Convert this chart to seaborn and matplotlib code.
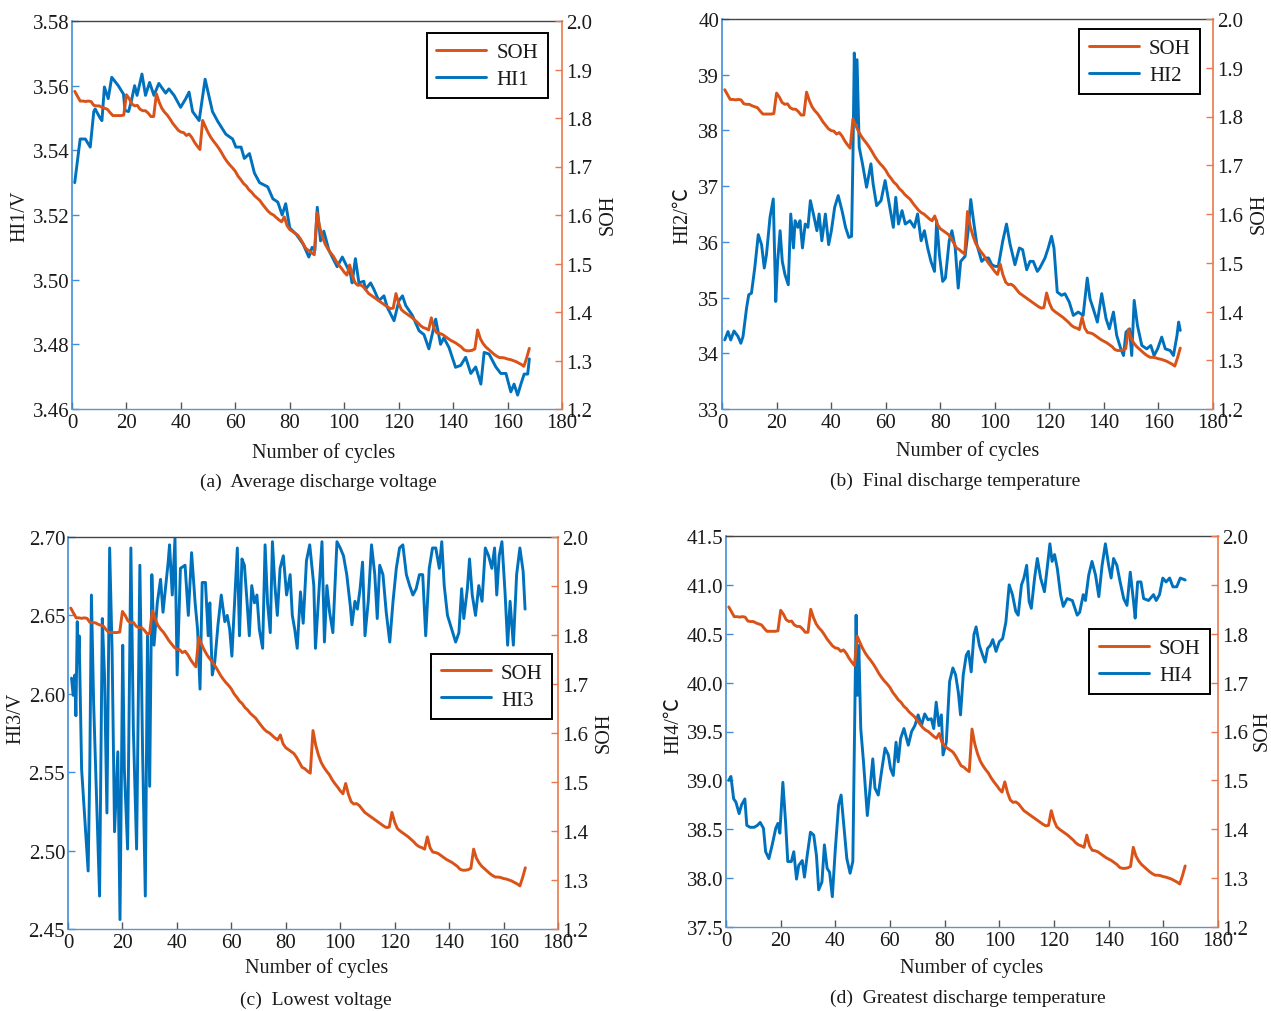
import numpy as np
import matplotlib
matplotlib.use("Agg")
import matplotlib.pyplot as plt
import seaborn as sns

# ---------------- data ----------------
cycles = list(range(1, 169))
soh = [
    1.855, 1.845, 1.835, 1.835, 1.834, 1.835, 1.834, 1.826, 1.825, 1.825,
    1.822, 1.820, 1.818, 1.811, 1.805, 1.805, 1.805, 1.805, 1.806, 1.848,
    1.840, 1.829, 1.825, 1.826, 1.818, 1.815, 1.815, 1.810, 1.803, 1.803,
    1.850, 1.833, 1.820, 1.812, 1.806, 1.798, 1.789, 1.782, 1.775, 1.771,
    1.770, 1.764, 1.767, 1.760, 1.750, 1.742, 1.735, 1.795, 1.782, 1.770,
    1.760, 1.752, 1.745, 1.737, 1.728, 1.718, 1.710, 1.703, 1.697, 1.690,
    1.680, 1.673, 1.665, 1.660, 1.652, 1.647, 1.640, 1.635, 1.630, 1.622,
    1.615, 1.608, 1.603, 1.600, 1.595, 1.590, 1.586, 1.596, 1.578, 1.570,
    1.566, 1.562, 1.558, 1.550, 1.540, 1.530, 1.527, 1.522, 1.518, 1.605,
    1.575, 1.555, 1.540, 1.530, 1.522, 1.515, 1.505, 1.497, 1.490, 1.482,
    1.476, 1.497, 1.475, 1.460, 1.455, 1.456, 1.452, 1.445, 1.438, 1.434,
    1.430, 1.426, 1.422, 1.418, 1.414, 1.410, 1.407, 1.408, 1.438, 1.418,
    1.405, 1.400, 1.396, 1.392, 1.388, 1.383, 1.378, 1.372, 1.368, 1.366,
    1.363, 1.388, 1.366, 1.357, 1.356, 1.354, 1.350, 1.346, 1.342, 1.339,
    1.336, 1.332, 1.328, 1.322, 1.320, 1.320, 1.321, 1.324, 1.363, 1.345,
    1.335, 1.328, 1.323, 1.318, 1.313, 1.309, 1.306, 1.306, 1.305, 1.303,
    1.302, 1.300, 1.298, 1.295, 1.292, 1.288, 1.305, 1.325,
]

hi1_cycles = [
    1.0, 3.0, 4.9, 6.7, 8.0, 8.5, 10.3, 11.0, 11.9, 13.3, 14.6, 17.0, 18.9, 19.5,
    20.8, 22.0, 23.0, 23.9, 25.7, 27.0, 28.5, 30.1, 31.9, 34.4, 35.6, 37.5, 39.9,
    41.8, 43.0, 44.3, 46.7, 48.9, 51.6, 53.5, 56.5, 59.0, 60.2, 62.1, 63.3, 65.2,
    67.0, 68.9, 71.9, 73.8, 75.6, 77.2, 78.5, 80.0, 82.4, 84.9, 87.0, 88.2, 89.2,
    90.1, 91.3, 92.5, 94.4, 97.4, 99.3, 102.3, 102.9, 104.1, 105.4, 107.2, 107.8,
    109.7, 110.9, 112.7, 114.6, 115.8, 118.3, 120.1, 121.4, 122.6, 125.0, 127.5,
    129.3, 131.1, 133.6, 135.4, 136.6, 138.5, 140.9, 142.8, 144.6, 146.5, 148.3,
    150.2, 151.4, 153.2, 155.7, 157.5, 159.4, 161.2, 162.4, 163.7, 164.9, 166.1,
    167.4, 168.0,
]
hi1 = [
    3.5300, 3.5435, 3.5435, 3.5410, 3.5520, 3.5528, 3.5500, 3.5492, 3.5596, 3.5560,
    3.5626, 3.5600, 3.5574, 3.5523, 3.5520, 3.5560, 3.5600, 3.5570, 3.5636, 3.5570,
    3.5610, 3.5570, 3.5607, 3.5577, 3.5590, 3.5570, 3.5533, 3.5560, 3.5580, 3.5520,
    3.5492, 3.5620, 3.5520, 3.5490, 3.5450, 3.5435, 3.5410, 3.5410, 3.5375, 3.5390,
    3.5330, 3.5300, 3.5287, 3.5250, 3.5240, 3.5200, 3.5235, 3.5160, 3.5140, 3.5110,
    3.5070, 3.5100, 3.5090, 3.5224, 3.5120, 3.5150, 3.5090, 3.5040, 3.5070, 3.5018,
    3.4990, 3.5065, 3.4990, 3.4995, 3.4970, 3.4990, 3.4970, 3.4935, 3.4950, 3.4915,
    3.4873, 3.4935, 3.4950, 3.4920, 3.4890, 3.4842, 3.4830, 3.4786, 3.4878, 3.4800,
    3.4820, 3.4790, 3.4729, 3.4735, 3.4760, 3.4710, 3.4730, 3.4677, 3.4775, 3.4770,
    3.4730, 3.4710, 3.4710, 3.4653, 3.4677, 3.4643, 3.4677, 3.4708, 3.4708, 3.4755,
]

hi2_cycles = [
    1.0, 2.2, 3.2, 4.4, 5.9, 6.9, 7.7, 9.0, 9.8, 10.8, 12.0, 13.3, 14.5, 15.5,
    16.3, 17.6, 18.8, 19.7, 20.4, 21.3, 22.1, 23.1, 24.3, 25.2, 26.2, 26.8, 27.8,
    28.6, 29.5, 30.5, 31.5, 32.4, 33.5, 34.8, 35.6, 36.6, 37.9, 39.1, 40.1, 41.3,
    42.6, 44.0, 45.3, 46.5, 47.5, 48.0, 48.5, 49.0, 49.5, 50.3, 51.5, 53.0, 54.6,
    55.4, 56.7, 58.3, 59.8, 61.3, 62.8, 63.7, 64.7, 66.0, 67.2, 68.9, 70.5, 71.7,
    73.0, 74.2, 75.4, 76.6, 77.9, 78.7, 79.7, 80.9, 81.9, 83.3, 84.3, 85.5, 86.6,
    87.5, 89.1, 90.3, 91.2, 92.2, 93.4, 95.2, 96.5, 97.7, 98.9, 100.1, 101.3,
    102.9, 104.3, 105.6, 107.4, 109.0, 110.2, 111.7, 112.9, 114.1, 115.6, 116.5,
    118.4, 119.6, 120.8, 121.7, 122.9, 124.5, 125.7, 127.3, 128.8, 130.6, 132.4,
    133.9, 134.9, 136.1, 137.6, 139.2, 140.8, 142.0, 143.5, 144.7, 146.2, 147.2,
    148.1, 149.4, 150.2, 151.1, 152.3, 153.9, 155.7, 157.2, 158.4, 159.7, 161.2,
    162.5, 164.3, 165.5, 166.8, 167.4, 168.0,
]
hi2 = [
    34.24, 34.39, 34.24, 34.40, 34.30, 34.18, 34.30, 34.81, 35.05, 35.08, 35.53,
    36.13, 35.95, 35.53, 35.77, 36.44, 36.77, 34.93, 35.65, 36.20, 35.65, 35.41,
    35.23, 36.50, 35.89, 36.38, 36.26, 36.38, 35.89, 36.32, 36.26, 36.74, 36.50,
    36.20, 36.50, 36.02, 36.50, 35.95, 36.20, 36.62, 36.83, 36.56, 36.26, 36.08,
    36.10, 37.52, 39.39, 38.12, 39.27, 37.70, 37.40, 36.98, 37.40, 37.04, 36.65,
    36.74, 37.10, 36.68, 36.26, 36.80, 36.32, 36.56, 36.32, 36.38, 36.26, 36.50,
    36.02, 36.20, 35.89, 35.65, 35.47, 36.38, 35.77, 35.29, 35.35, 36.02, 36.20,
    35.89, 35.17, 35.65, 35.74, 36.22, 36.76, 36.38, 35.96, 35.65, 35.71, 35.71,
    35.59, 35.56, 35.56, 36.01, 36.32, 35.96, 35.59, 35.89, 35.86, 35.50, 35.65,
    35.65, 35.47, 35.53, 35.71, 35.89, 36.10, 35.89, 35.10, 35.04, 35.07, 34.92,
    34.68, 34.74, 34.68, 35.35, 34.98, 34.80, 34.56, 35.07, 34.62, 34.44, 34.74,
    34.32, 34.08, 33.96, 34.38, 34.44, 33.96, 34.95, 34.50, 34.14, 34.08, 34.14,
    33.96, 34.08, 34.29, 34.08, 34.05, 33.96, 34.32, 34.56, 34.41,
]

hi3_cycles = [
    1.3, 1.9, 2.5, 2.9, 3.4, 3.7, 4.1, 5.0, 6.2, 7.4, 8.0, 8.6, 9.4, 10.4, 11.6,
    12.6, 13.4, 14.3, 15.3, 16.2, 17.1, 18.3, 19.1, 20.1, 20.7, 21.9, 23.1, 24.0,
    25.2, 26.4, 27.4, 28.4, 29.2, 30.0, 30.8, 31.6, 32.8, 34.0, 34.9, 35.9, 36.8,
    37.3, 38.3, 39.3, 40.1, 41.3, 43.0, 44.2, 45.4, 46.7, 47.6, 48.5, 49.3, 50.5,
    51.5, 52.1, 53.0, 53.9, 55.1, 56.3, 57.6, 58.5, 59.4, 60.2, 61.2, 62.2, 63.0,
    63.9, 64.8, 65.8, 66.6, 67.5, 68.5, 69.4, 70.3, 71.5, 72.4, 73.3, 74.3, 75.1,
    76.0, 76.9, 77.9, 79.1, 80.3, 81.6, 82.4, 83.3, 84.2, 85.4, 86.4, 87.6, 88.8,
    90.3, 90.9, 92.1, 93.3, 94.2, 95.1, 96.1, 97.3, 98.8, 100.0, 101.2, 102.4,
    103.7, 104.3, 105.4, 106.3, 107.3, 108.2, 109.1, 110.3, 111.5, 112.7, 113.6,
    114.5, 115.7, 116.9, 118.2, 119.4, 120.6, 121.8, 123.0, 124.3, 125.5, 126.7,
    127.9, 129.1, 130.3, 131.4, 132.7, 133.9, 135.1, 136.4, 137.3, 138.2, 139.4,
    141.0, 142.4, 143.6, 144.6, 145.4, 146.7, 147.5, 148.5, 149.7, 150.9, 152.1,
    153.3, 154.5, 155.7, 156.7, 157.5, 158.4, 159.4, 160.6, 161.5, 162.4, 163.6,
    164.8, 166.0, 167.2, 167.9,
]
hi3 = [
    2.610, 2.599, 2.612, 2.586, 2.646, 2.620, 2.637, 2.552, 2.520, 2.487, 2.552,
    2.663, 2.595, 2.539, 2.471, 2.648, 2.612, 2.524, 2.693, 2.627, 2.512, 2.563,
    2.456, 2.631, 2.552, 2.501, 2.693, 2.578, 2.501, 2.682, 2.563, 2.471, 2.637,
    2.541, 2.676, 2.631, 2.658, 2.673, 2.652, 2.669, 2.684, 2.695, 2.663, 2.699,
    2.612, 2.680, 2.682, 2.650, 2.690, 2.658, 2.641, 2.603, 2.671, 2.671, 2.637,
    2.658, 2.612, 2.620, 2.644, 2.663, 2.646, 2.650, 2.641, 2.624, 2.658, 2.693,
    2.637, 2.686, 2.682, 2.658, 2.637, 2.669, 2.658, 2.663, 2.641, 2.629, 2.695,
    2.658, 2.639, 2.697, 2.669, 2.650, 2.680, 2.688, 2.663, 2.676, 2.650, 2.641,
    2.629, 2.665, 2.645, 2.685, 2.695, 2.669, 2.629, 2.663, 2.697, 2.633, 2.669,
    2.652, 2.639, 2.697, 2.693, 2.688, 2.676, 2.656, 2.644, 2.659, 2.654, 2.667,
    2.684, 2.637, 2.659, 2.695, 2.676, 2.648, 2.682, 2.676, 2.652, 2.633, 2.659,
    2.680, 2.693, 2.695, 2.676, 2.669, 2.663, 2.667, 2.676, 2.676, 2.637, 2.680,
    2.693, 2.693, 2.680, 2.697, 2.669, 2.650, 2.641, 2.633, 2.639, 2.667, 2.648,
    2.667, 2.686, 2.663, 2.650, 2.669, 2.659, 2.693, 2.688, 2.680, 2.693, 2.663,
    2.688, 2.697, 2.663, 2.631, 2.659, 2.631, 2.676, 2.693, 2.678, 2.654,
]

hi4_cycles = [
    1.0, 1.8, 2.8, 3.6, 4.8, 5.7, 6.9, 7.6, 8.8, 10.3, 11.5, 12.5, 13.7, 14.5,
    15.7, 16.9, 18.2, 19.0, 19.7, 20.8, 21.8, 22.6, 23.9, 24.8, 25.8, 26.6, 27.9,
    28.7, 29.7, 30.9, 32.1, 33.1, 33.9, 35.1, 36.0, 37.0, 37.9, 38.9, 40.0, 41.2,
    42.1, 43.0, 44.2, 45.4, 46.4, 46.9, 47.6, 48.1, 48.6, 49.3, 50.3, 51.7, 52.7,
    53.7, 54.5, 55.7, 56.9, 58.2, 59.4, 60.2, 61.2, 62.2, 63.0, 63.9, 65.1, 66.7,
    67.9, 69.1, 70.3, 71.5, 72.7, 73.9, 75.1, 76.0, 76.9, 77.9, 78.8, 79.4, 80.6,
    81.8, 83.0, 84.0, 85.0, 85.8, 86.8, 87.9, 88.7, 89.7, 90.7, 91.5, 92.7, 93.9,
    94.8, 95.7, 96.7, 97.6, 98.8, 100.0, 101.2, 102.4, 103.6, 104.8, 106.0, 106.9,
    108.1, 109.0, 110.0, 110.9, 111.7, 112.9, 113.9, 115.1, 116.5, 117.5, 118.5,
    119.3, 120.2, 121.2, 122.4, 123.4, 124.8, 126.7, 128.5, 129.4, 130.7, 131.5,
    132.7, 133.9, 135.2, 136.4, 137.6, 138.8, 140.0, 140.9, 141.8, 143.0, 144.2,
    145.5, 146.7, 147.9, 149.1, 149.7, 150.6, 151.8, 152.8, 154.6, 156.4, 157.4,
    158.6, 159.8, 161.0, 162.3, 163.5, 164.9, 166.2, 168.0,
]
hi4 = [
    39.00, 39.04, 38.81, 38.78, 38.66, 38.75, 38.81, 38.54, 38.52, 38.52, 38.54,
    38.57, 38.51, 38.27, 38.20, 38.34, 38.51, 38.56, 38.46, 38.98, 38.57, 38.17,
    38.17, 38.27, 37.99, 38.13, 38.18, 38.01, 38.23, 38.47, 38.44, 38.23, 37.88,
    37.96, 38.34, 38.10, 38.06, 37.81, 38.30, 38.75, 38.85, 38.57, 38.20, 38.05,
    38.17, 39.19, 40.69, 39.87, 40.38, 39.53, 39.19, 38.64, 38.92, 39.22, 38.92,
    38.85, 39.09, 39.33, 39.26, 39.12, 39.05, 39.39, 39.19, 39.43, 39.53, 39.36,
    39.50, 39.56, 39.67, 39.56, 39.68, 39.62, 39.63, 39.53, 39.80, 39.56, 39.67,
    39.26, 39.39, 40.01, 40.15, 40.08, 39.90, 39.67, 40.08, 40.28, 40.32, 40.11,
    40.49, 40.57, 40.38, 40.28, 40.21, 40.35, 40.38, 40.44, 40.32, 40.42, 40.45,
    40.62, 41.00, 40.90, 40.73, 40.69, 41.00, 41.07, 41.20, 40.83, 40.76, 41.07,
    41.27, 41.07, 40.93, 41.17, 41.42, 41.24, 41.31, 41.17, 40.90, 40.78, 40.86,
    40.84, 40.69, 40.72, 40.90, 40.84, 41.10, 41.24, 41.10, 40.88, 41.20, 41.42,
    41.20, 41.07, 41.27, 41.20, 41.03, 40.86, 40.79, 41.13, 40.83, 40.66, 41.03,
    41.03, 40.86, 40.84, 40.90, 40.84, 40.90, 41.07, 41.03, 41.07, 40.98, 40.98,
    41.07, 41.05,
]

x_ticks = [0, 20, 40, 60, 80, 100, 120, 140, 160, 180]
soh_ticks = [1.2, 1.3, 1.4, 1.5, 1.6, 1.7, 1.8, 1.9, 2.0]
hi1_ticks = [3.46, 3.48, 3.50, 3.52, 3.54, 3.56, 3.58]
hi2_ticks = [33, 34, 35, 36, 37, 38, 39, 40]
hi3_ticks = [2.45, 2.50, 2.55, 2.60, 2.65, 2.70]
hi4_ticks = [37.5, 38.0, 38.5, 39.0, 39.5, 40.0, 40.5, 41.0, 41.5]

# ---------------- style ----------------
sns.set_theme(style="white")
plt.rcParams['font.family'] = ['Liberation Serif', 'Noto Sans CJK SC', 'DejaVu Sans']
plt.rcParams['axes.unicode_minus'] = False

W, H = 1271, 1012
fig = plt.figure(figsize=(W / 100, H / 100), dpi=100)

BLUE = '#0072BD'
ORANGE = '#D95319'
AX_BLUE = '#3f8fd8'
AX_ORANGE = '#ea7a4c'
TXT = '#1a1a1a'


def rect(l, t, r, b):
    return [l / W, 1 - b / H, (r - l) / W, (b - t) / H]


panels = [
    dict(box=(72, 22, 562, 410), hx=hi1_cycles, hy=hi1, name='HI1', ylab='HI1/V',
         ylim=(3.46, 3.58), yt=hi1_ticks, fmt='{:.2f}', leg=(0.971, 0.969),
         ylab_xy=(20, 216), soh_xy=(608, 215), xlab_xy=(324, 453),
         cap='(a)  Average discharge voltage', cap_xy=(318, 482)),
    dict(box=(722, 20, 1213, 410), hx=hi2_cycles, hy=hi2, name='HI2', ylab='HI2/℃',
         ylim=(33, 40), yt=hi2_ticks, fmt='{:d}', leg=(0.974, 0.974),
         ylab_xy=(683, 216), soh_xy=(1259, 214), xlab_xy=(968, 451),
         cap='(b)  Final discharge temperature', cap_xy=(955, 481)),
    dict(box=(68, 538, 558, 930), hx=hi3_cycles, hy=hi3, name='HI3', ylab='HI3/V',
         ylim=(2.45, 2.70), yt=hi3_ticks, fmt='{:.2f}', leg=(0.988, 0.702),
         ylab_xy=(16, 718), soh_xy=(604, 733), xlab_xy=(317, 968),
         cap='(c)  Lowest voltage', cap_xy=(316, 1000)),
    dict(box=(726, 537, 1218, 928), hx=hi4_cycles, hy=hi4, name='HI4', ylab='HI4/℃',
         ylim=(37.5, 41.5), yt=hi4_ticks, fmt='{:.1f}', leg=(0.984, 0.762),
         ylab_xy=(674, 726), soh_xy=(1262, 731), xlab_xy=(972, 968),
         cap='(d)  Greatest discharge temperature', cap_xy=(968, 998)),
]

for p in panels:
    ax = fig.add_axes(rect(*p['box']))
    ax2 = ax.twinx()

    sns.lineplot(x=p['hx'], y=p['hy'], ax=ax, color=BLUE, linewidth=2.1,
                 legend=False, sort=False)
    sns.lineplot(x=cycles, y=soh, ax=ax2, color=ORANGE, linewidth=2.1,
                 legend=False, sort=False)

    ax.set_xlim(0, 180)
    ax.set_xticks(x_ticks)
    ax.set_xticklabels([str(t) for t in x_ticks])
    ax.set_ylim(*p['ylim'])
    ax.set_yticks(p['yt'])
    if p['fmt'] == '{:d}':
        ax.set_yticklabels([str(int(t)) for t in p['yt']])
    else:
        ax.set_yticklabels([p['fmt'].format(t) for t in p['yt']])
    ax2.set_ylim(1.2, 2.0)
    ax2.set_yticks(soh_ticks)
    ax2.set_yticklabels(['{:.1f}'.format(t) for t in soh_ticks])
    ax.set_xlabel('')
    ax.set_ylabel('')
    ax2.set_ylabel('')

    for a in (ax, ax2):
        for s in a.spines.values():
            s.set_visible(False)
    ax.spines['left'].set_visible(True)
    ax.spines['left'].set_color(AX_BLUE)
    ax.spines['left'].set_linewidth(1.2)
    ax.spines['top'].set_visible(True)
    ax.spines['top'].set_color('#444444')
    ax.spines['top'].set_linewidth(1.0)
    ax.spines['bottom'].set_visible(True)
    ax.spines['bottom'].set_color('#6a8fc0')
    ax.spines['bottom'].set_linewidth(1.0)
    ax2.spines['right'].set_visible(True)
    ax2.spines['right'].set_color(AX_ORANGE)
    ax2.spines['right'].set_linewidth(1.2)

    ax.tick_params(axis='x', direction='in', length=5, width=1, colors='#555555',
                   labelcolor=TXT, labelsize=15, pad=3, bottom=True, top=False)
    ax.tick_params(axis='y', direction='in', length=5, width=1, colors=AX_BLUE,
                   labelcolor=TXT, labelsize=15, pad=2, left=True, right=False)
    ax2.tick_params(axis='y', direction='in', length=5, width=1, colors=AX_ORANGE,
                    labelcolor=TXT, labelsize=15, pad=3, right=True, left=False)
    ax2.grid(False)
    ax.grid(False)

    h_soh = ax2.get_lines()[0]
    h_hi = ax.get_lines()[0]
    leg = ax2.legend([h_soh, h_hi], ['SOH', p['name']], loc='upper right',
                     bbox_to_anchor=p['leg'], frameon=True, fancybox=False,
                     edgecolor='black', framealpha=1, fontsize=15,
                     handlelength=2.4, handletextpad=0.5, borderpad=0.45,
                     labelspacing=0.35, borderaxespad=0)
    leg.get_frame().set_linewidth(1.4)
    for t in leg.get_texts():
        t.set_color(TXT)

    fig.text(p['ylab_xy'][0] / W, 1 - p['ylab_xy'][1] / H, p['ylab'], rotation=90,
             ha='center', va='center', fontsize=14.5, color=TXT,
             family=['Liberation Serif', 'Noto Sans CJK SC'])
    fig.text(p['soh_xy'][0] / W, 1 - p['soh_xy'][1] / H, 'SOH', rotation=90,
             ha='center', va='center', fontsize=14.5, color=TXT)
    fig.text(p['xlab_xy'][0] / W, 1 - p['xlab_xy'][1] / H, 'Number of cycles',
             ha='center', va='center', fontsize=14.5, color=TXT)
    fig.text(p['cap_xy'][0] / W, 1 - p['cap_xy'][1] / H, p['cap'],
             ha='center', va='center', fontsize=14, color=TXT)

fig.savefig('out.png', dpi=100, facecolor='white')
